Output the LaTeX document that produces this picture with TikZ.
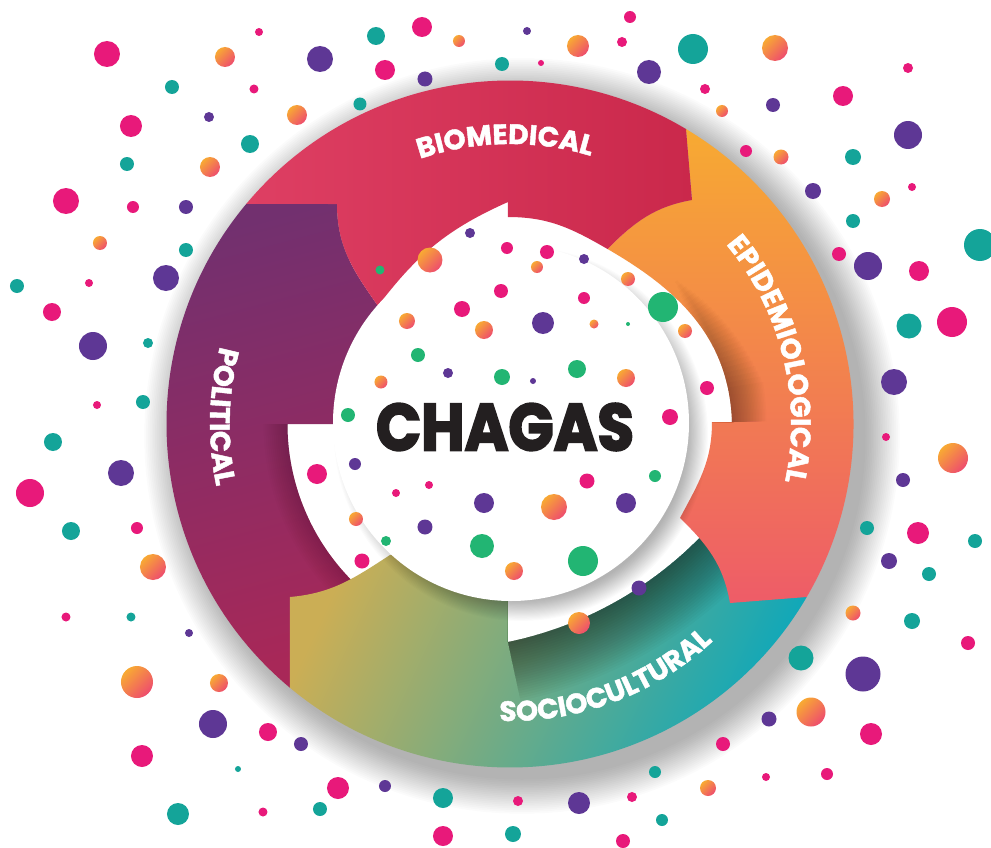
\documentclass[tikz,border=0pt]{standalone}
\usepackage{fontspec}
\newfontfamily\pop{Poppins}[BoldFeatures={FakeBold=1.6}]
\newfontfamily\popH{Poppins}[BoldFeatures={FakeBold=3.2}]
\usetikzlibrary{decorations.text}
\definecolor{cPk}{HTML}{E8197A}
\definecolor{cPu}{HTML}{5E3795}
\definecolor{cTe}{HTML}{14A499}
\definecolor{cGr}{HTML}{22B573}
\definecolor{cO1}{HTML}{F8AA33}
\definecolor{cO2}{HTML}{EE4C6E}
\definecolor{cR1}{HTML}{DE3F63}
\definecolor{cR2}{HTML}{CA284B}
\definecolor{cU1}{HTML}{72306F}
\definecolor{cU2}{HTML}{A82858}
\definecolor{cE1}{HTML}{F7AA32}
\definecolor{cE2}{HTML}{EE5C68}
\definecolor{cS1}{HTML}{CBAE55}
\definecolor{cS2}{HTML}{10A8B9}
\definecolor{cInk}{HTML}{231F20}
\newcommand\DPk[3]{\fill[cPk] ({#1-510},{424-#2}) circle[radius=#3pt];}
\newcommand\DPu[3]{\fill[cPu] ({#1-510},{424-#2}) circle[radius=#3pt];}
\newcommand\DTe[3]{\fill[cTe] ({#1-510},{424-#2}) circle[radius=#3pt];}
\newcommand\DGr[3]{\fill[cGr] ({#1-510},{424-#2}) circle[radius=#3pt];}
\newcommand\DOr[3]{\shade[top color=cO1, bottom color=cO2, shading angle=45] ({#1-510},{424-#2}) circle[radius=#3pt];}
\newcommand\lblfont{\pop\bfseries\fontsize{28}{28}\selectfont}
\begin{document}
\begin{tikzpicture}[x=1pt,y=1pt,
  lbl/.style={decorate, decoration={text along path, text color=white, text align=center, text={|\lblfont|#1}}}]
\useasboundingbox (-510,-423) rectangle (481,424);
\fill[white] (-510,-423) rectangle (481,424);
% key points
\coordinate (OTL) at (140.17:343.5);
\coordinate (OTR) at (59.18:343.5);
\coordinate (OBR) at (-30.24:343.5);
\coordinate (OBL) at (230.17:343.5);
\coordinate (QTL) at (-173,220);
\coordinate (TTL) at (-132,118);
\coordinate (QTR) at (182,224);
\coordinate (TTR) at (97.5,175);
\coordinate (QBR) at (220,-179);
\coordinate (TBR) at (170,-94);
\coordinate (QBL) at (-220,-173);
\coordinate (TBL) at (-120,-131);
\coordinate (RS1) at (-2,207);
\coordinate (RS2) at (-2,222);
\coordinate (OS1) at (202,2);
\coordinate (OS2) at (222,2);
\coordinate (SS1) at (-2,-140);
\coordinate (SS2) at (-2,-218);
\coordinate (PS1) at (-150,0);
\coordinate (PS2) at (-222.5,0);
\def\PRed{(OTL) arc[start angle=140.17, end angle=59.18, radius=343.5pt] -- (QTR) to[out=190,in=45] (TTR) to[out=150,in=0] (RS1) -- (RS2) to[out=204,in=53] (TTL) to[out=125,in=-90] (QTL) -- cycle}
\def\POra{(OTR) arc[start angle=59.18, end angle=-30.24, radius=343.5pt] -- (QBR) to[out=100,in=-44] (TBR) to[out=62,in=-90] (OS1) -- (OS2) to[out=92,in=-30] (TTR) to[out=45,in=190] (QTR) -- cycle}
\def\PSoc{(OBR) arc[start angle=-30.24, end angle=-129.83, radius=343.5pt] -- (QBL) to[out=5,in=213] (TBL) -- (SS1) -- (SS2) arc[start angle=-78.3, end angle=-40, radius=376pt] -- (260,-150) -- cycle}
\def\PPur{(OBL) arc[start angle=230.17, end angle=140.17, radius=343.5pt] -- (QTL) to[out=-90,in=125] (TTL) -- (PS1) -- (PS2) arc[start angle=180, end angle=232, radius=222.5pt] -- (-210,-255) -- cycle}
% ring shadow
\foreach \i in {0,...,19}{
  \fill[black, opacity=0.014, even odd rule] (12,-12) circle[radius={343.5+1.8*\i}] (0,0) circle[radius=228];
}
% political
\shade[top color=cU1, bottom color=cU2, shading angle=15] \PPur;
\begin{scope}
  \clip \PPur;
  \clip (-400,-400) rectangle (0,0);
  \foreach \i in {1,...,12}{
    \draw[black, opacity=0.012, line width={4*\i*1pt}] (PS2) arc[start angle=180, end angle=232, radius=222.5pt];
  }
\end{scope}
% sociocultural
\shade[left color=cS1, right color=cS2, shading angle=65] \PSoc;
\begin{scope}
  \clip \PSoc;
  \clip (-2,-400) rectangle (400,0);
  \foreach \i in {1,...,24}{
    \draw[black, opacity=0.022, line width={5*\i*1pt}] (SS2) arc[start angle=-78.3, end angle=-36, radius=376pt];
  }
\end{scope}
% epidemiological
\shade[top color=cE1, bottom color=cE2] \POra;
\begin{scope}
  \clip \POra;
  \clip (0,2) rectangle (400,300);
  \foreach \i in {1,...,25}{
    \pgfmathsetmacro\endang{42-1.3*\i}
    \draw[black, opacity=0.017, line width={3*\i*1pt}] (0.5:219) arc[start angle=0.5, end angle=\endang, radius=219pt];
  }
\end{scope}
% biomedical
\shade[left color=cR1, right color=cR2] \PRed;
% disc shadow and disc
\foreach \i in {0,...,19}{
  \fill[black, opacity=0.016] (11,-10) circle[radius={166+1.1*\i}];
}
\fill[white] (1,1) circle[radius=178];
% dots outside
\DPk{107}{54}{13} \DPk{259}{32}{4} \DOr{225}{57}{10} \DPu{320}{59}{13} \DTe{376}{36}{9} \DPk{422}{27}{10} \DOr{459}{41}{6} \DPk{385}{70}{10} \DPu{425}{79}{7.5} \DTe{502}{64}{7} \DTe{172}{87}{7} \DPk{254}{89}{4.5} \DTe{360}{104}{6.5} \DOr{297}{115}{10} \DPu{209}{117}{5} \DPk{131}{126}{11} \DTe{250}{144}{9} \DTe{127}{164}{7} \DOr{210}{167}{10} \DPk{66}{201}{13} \DPk{133}{207}{6} \DPu{186}{207}{7} \DOr{100}{243}{7} \DTe{186}{250}{7} \DTe{17}{286}{7} \DPk{89}{283}{4} \DPu{166}{278}{13} \DPk{52}{312}{9} \DPu{93}{346}{14} \DTe{148}{343}{5} \DPk{97}{405}{4} \DTe{143}{402}{7}
\DPu{527}{31}{4} \DPk{630}{17}{6} \DOr{578}{46}{11} \DPk{622}{42}{5} \DPk{541}{63}{3} \DTe{693}{49}{15} \DPu{649}{72}{12} \DOr{775}{48}{13} \DPk{705}{89}{5} \DOr{722}{111}{6} \DPu{773}{105}{7} \DPk{908}{68}{5} \DPk{843}{96}{10} \DPu{908}{135}{14} \DPk{746}{151}{6} \DOr{781}{157}{7.5} \DTe{853}{157}{8} \DPu{813}{191}{8} \DPk{912}{187}{4} \DOr{882}{199}{8} \DTe{853}{221}{7} \DTe{980}{245}{16} \DPk{839}{254}{7} \DPu{868}{266}{14} \DPk{919}{271}{10} \DTe{909}{326}{12.5} \DPk{952}{322}{15} \DPu{894}{382}{13}
\DTe{53}{442}{9} \DPu{121}{473}{13} \DPk{30}{493}{14} \DTe{71}{531}{9} \DPk{137}{528}{6} \DOr{153}{567}{13} \DPk{66}{617}{4.5} \DTe{131}{617}{4.5} \DPu{189}{633}{4} \DOr{137}{682}{16} \DOr{219}{683}{9} \DPu{213}{724}{14} \DPk{268}{732}{9} \DPu{301}{744}{7} \DPk{142}{756}{11} \DTe{238}{769}{3} \DPk{338}{788}{11} \DPu{385}{786}{6} \DTe{443}{798}{10} \DTe{178}{814}{11} \DPk{263}{812}{4.5} \DTe{320}{809}{7} \DPk{443}{836}{10}
\DPk{886}{437}{4} \DOr{953}{458}{15} \DPu{903}{480}{7} \DTe{867}{528}{7} \DPk{918}{533}{11} \DTe{975}{541}{7} \DPu{889}{561}{8} \DTe{929}{574}{7} \DOr{853}{613}{7.5} \DTe{912}{621}{8} \DPk{968}{643}{7} \DTe{801}{658}{12.5} \DPu{863}{674}{17.5} \DPu{769}{719}{7.5} \DOr{811}{712}{14.5} \DPk{871}{734}{11} \DPk{723}{744}{7} \DTe{655}{772}{6} \DPk{766}{777}{4} \DPk{827}{774}{6} \DOr{708}{788}{8} \DPk{518}{801}{5} \DPu{579}{803}{11} \DPk{632}{797}{5} \DTe{662}{820}{6} \DTe{513}{834}{8} \DPk{623}{841}{7}
% dots in the gap and the disc
\DPu{639}{588}{7.5} \DOr{579}{623}{11} \DPk{707}{388}{7}
\DPu{470}{233}{5} \DOr{430}{260}{12.5} \DGr{380}{270}{4.5} \DPk{462}{309}{8} \DOr{407}{321}{8} \DOr{484}{330}{9} \DGr{418}{355}{7} \DPu{448}{373}{5} \DOr{381}{382}{6.5} \DGr{348}{415}{7}
\DPk{507}{248}{6} \DPk{547}{252}{7} \DPu{584}{259}{5} \DOr{537}{267}{6} \DOr{628}{279}{7} \DPk{501}{291}{7} \DPk{584}{298}{6} \DGr{663}{307}{15} \DPu{543}{323}{11} \DOr{594}{324}{4.5} \DGr{628}{324}{2} \DOr{685}{331}{7} \DGr{577}{369}{9} \DGr{502}{377}{8} \DPu{533}{381}{3} \DOr{626}{378}{9} \DPk{670}{417}{8}
\DPk{317}{474}{10} \DPu{355}{464}{6} \DPk{396}{493}{4} \DPk{429}{485}{4} \DPu{484}{503}{10} \DOr{356}{519}{7} \DPu{425}{527}{7.5} \DGr{386}{541}{5} \DPk{362}{561}{7.5} \DGr{482}{546}{12}
\DPk{587}{481}{7.5} \DGr{655}{476}{6} \DOr{554}{507}{13} \DPu{626}{503}{10} \DGr{583}{561}{15} \DOr{514}{571}{9}
% central title
\node[inner sep=0pt, text=cInk] (chagas) at (-5,-3) {\resizebox{258pt}{47pt}{\popH\bfseries\fontsize{67}{67}\selectfont CHAGAS}};
% labels
\path[lbl=BIOMEDICAL] (121:280) arc[start angle=121, end angle=61, radius=280pt];
\path[lbl=EPIDEMIOLOGICAL] (50:281) arc[start angle=50, end angle=-22, radius=281pt];
\path[lbl=POLITICAL] (148:300) arc[start angle=148, end angle=209, radius=300pt];
\path[lbl=SOCIOCULTURAL] (-110:297) arc[start angle=-110, end angle=-29, radius=297pt];
\end{tikzpicture}
\end{document}
